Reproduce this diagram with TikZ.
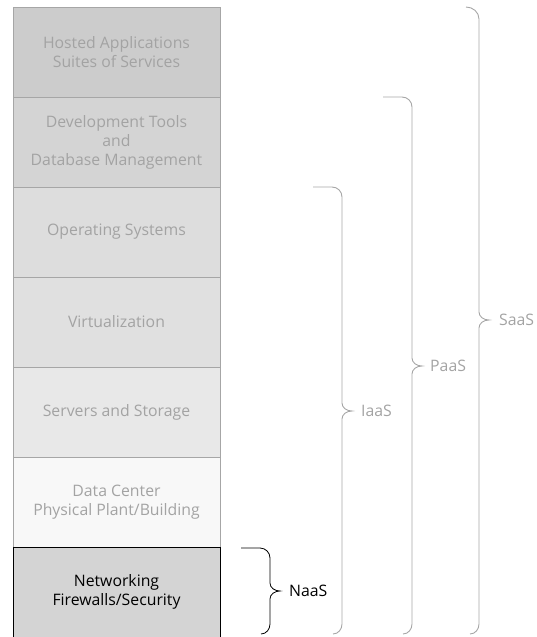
\documentclass[tikz,border=0pt]{standalone}
\usepackage{fontspec}
\setmainfont{Open Sans}
\usetikzlibrary{positioning}

\definecolor{layerline}{HTML}{A6A6A6}
\definecolor{layertext}{HTML}{A3A3A3}

\begin{document}
\begin{tikzpicture} [x=1pt,y=-1pt,
  layer/.style={draw=layerline,text=layertext,minimum width=207pt,minimum height=90pt,
    inner sep=0pt,outer sep=0pt,align=center,font=\fontsize{15.8}{19}\selectfont},
  cloud/.style={draw=layerline,line width=0.9pt},
  cloudlabel/.style={text=layertext,inner sep=0pt,font=\fontsize{15.8}{19}\selectfont}]
\useasboundingbox (0,0) rectangle (536,637);
% the stack of layers
\node [layer,fill={rgb,255:red,204;green,204;blue,204},anchor=north west] (hosted) at (13,7)
  {Hosted Applications\\Suites of Services};
\node [layer,fill={rgb,255:red,212;green,212;blue,212},below=0pt of hosted] (devtools)
  {Development Tools\\and\\Database Management};
\node [layer,fill={rgb,255:red,221;green,221;blue,221},below=0pt of devtools] (os)
  {Operating Systems};
\node [layer,fill={rgb,255:red,224;green,224;blue,224},below=0pt of os] (virt)
  {Virtualization};
\node [layer,fill={rgb,255:red,232;green,232;blue,232},below=0pt of virt] (servers)
  {Servers and Storage};
\node [layer,fill={rgb,255:red,248;green,248;blue,248},below=0pt of servers] (datacenter)
  {Data Center\\Physical Plant/Building};
\node [layer,fill={rgb,255:red,212;green,212;blue,212},draw=black,text=black,below=0pt of datacenter] (network)
  {Networking\\Firewalls/Security};
% braces
\draw [cloud,draw=black,line width=0.8pt] (241,548) -- (260,548) to[out=0,in=90] (270,558) -- (270,583)
  to[out=270,in=180] (280,591) coordinate (naastip) to[out=180,in=90] (270,599) -- (270,624)
  to[out=270,in=0] (261,634);
\draw [cloud] (313,187) -- (332,187) to[out=0,in=90] (342,197) -- (342,403)
  to[out=270,in=180] (352,411) coordinate (iaastip) to[out=180,in=90] (342,419) -- (342,624)
  to[out=270,in=0] (333,634);
\draw [cloud] (383,97) -- (402,97) to[out=0,in=90] (412,107) -- (412,358)
  to[out=270,in=180] (422,366) coordinate (paastip) to[out=180,in=90] (412,374) -- (412,624)
  to[out=270,in=0] (403,634);
\draw [cloud] (466,7) to[out=0,in=90] (479,19) -- (479,312)
  to[out=270,in=180] (489,320) coordinate (saastip) to[out=180,in=90] (479,328) -- (479,624)
  to[out=270,in=0] (470,634);
\node [cloudlabel,text=black,right=9pt of naastip] (naas) {NaaS};
\node [cloudlabel,right=9pt of iaastip] (iaas) {IaaS};
\node [cloudlabel,right=8pt of paastip] (paas) {PaaS};
\node [cloudlabel,right=10pt of saastip] (saas) {SaaS};
\end{tikzpicture}
\end{document}
